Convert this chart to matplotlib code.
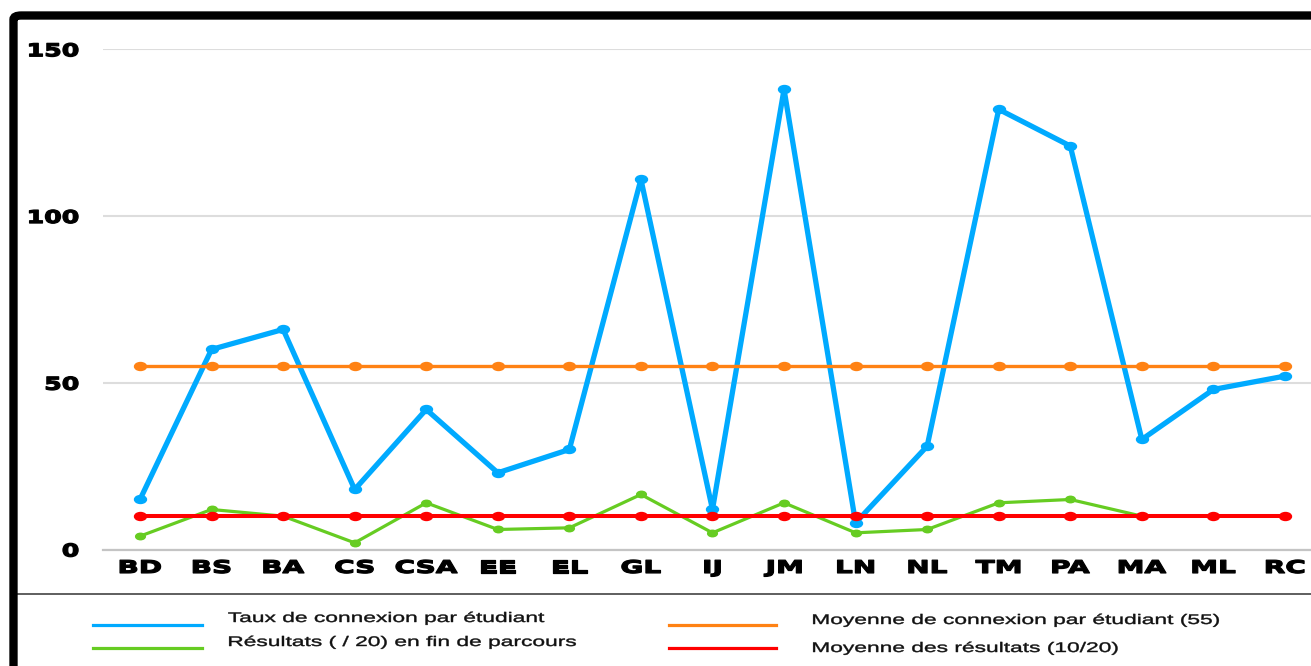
import numpy as np
import matplotlib
matplotlib.use("Agg")
import matplotlib.pyplot as plt
import matplotlib.patheffects as pe
from matplotlib.patches import FancyBboxPatch
from matplotlib.lines import Line2D
from matplotlib.path import Path
from matplotlib.transforms import Affine2D

# Données par parcours
parcours = ["BD", "BS", "BA", "CS", "CSA", "EE", "EL", "GL", "IJ",
            "JM", "LN", "NL", "TM", "PA", "MA", "ML", "RC"]
connexion = [15, 60, 66, 18, 42, 23, 30, 111, 12, 138, 8, 31, 132, 121, 33, 48, 52]
resultats = [4, 12, 10, 2, 14, 6, 6.5, 16.5, 5, 14, 5, 6, 14, 15, 10, np.nan, np.nan]
moy_connexion = [55] * len(parcours)
moy_resultats = [10] * len(parcours)
y_ticks = [0, 50, 100, 150]

legende = ["Taux de connexion par étudiant",
           "Résultats ( / 20) en fin de parcours",
           "Moyenne de connexion par étudiant (55)",
           "Moyenne des résultats (10/20)"]

BLEU = "#00aaff"
VERT = "#66cc22"
ORANGE = "#ff8214"
ROUGE = "#ff0000"

W, H = 1311, 666


class Etire(pe.AbstractPathEffect):
    """Élargit le texte horizontalement autour d'un point d'ancrage,
    avec un léger contour pour l'épaissir."""
    def __init__(self, sx, ancre=0.0, contour=0.0):
        super().__init__()
        self.sx = sx
        self.ancre = ancre
        self.contour = contour

    def draw_path(self, renderer, gc, tpath, affine, rgbFace=None):
        ext = tpath.get_extents()
        cx = ext.x0 + self.ancre * ext.width
        t = Affine2D().translate(-cx, 0).scale(self.sx, 1).translate(cx, 0)
        if self.contour > 0:
            gc0 = renderer.new_gc()
            gc0.copy_properties(gc)
            gc0.set_linewidth(self.contour)
            gc0.set_foreground(rgbFace)
            gc0.set_joinstyle("round")
            renderer.draw_path(gc0, tpath, t + affine, rgbFace)
            gc0.restore()
        else:
            renderer.draw_path(gc, tpath, t + affine, rgbFace)


def fx(x):
    return x / W


def fy(y):
    return 1 - y / H


# marqueur ovale
ovale = Path.unit_circle().transformed(Affine2D().scale(1.5, 1.0))

fig = plt.figure(figsize=(W / 100, H / 100), dpi=100)
ax = fig.add_axes([fx(103), fy(549.5), 1 - fx(103), (549.5 - 49.3) / H])

x = np.arange(len(parcours))
ax.plot(x, connexion, color=BLEU, lw=3.8, marker=ovale, ms=8.6, zorder=3,
        solid_capstyle="round", solid_joinstyle="round")
ax.plot(x, resultats, color=VERT, lw=2.3, marker=ovale, ms=7, zorder=4,
        solid_joinstyle="round")
ax.plot(x, moy_connexion, color=ORANGE, lw=2.4, marker=ovale, ms=8.6, zorder=5)
ax.plot(x, moy_resultats, color=ROUGE, lw=2.9, marker=ovale, ms=8.6, zorder=6)

ax.set_xlim(-(140 - 103) / 71.56, (W - 140) / 71.56)
ax.set_ylim(0, 150)
ax.set_xticks(x)
ax.set_xticklabels(parcours, fontfamily="DejaVu Sans", fontweight="bold", fontsize=12.6)
ax.set_yticks(y_ticks)
ax.set_yticklabels([str(v) for v in y_ticks], fontfamily="DejaVu Sans",
                   fontweight="bold", fontsize=12.8)
ax.tick_params(axis="x", length=0, pad=6.8)
ax.tick_params(axis="y", length=0, pad=17.3)
for lab in ax.get_xticklabels():
    lab.set_path_effects([Etire(1.6, 0.5, contour=0.9)])
for lab in ax.get_yticklabels():
    lab.set_path_effects([Etire(1.42, 1.0, contour=0.9)])

ax.grid(axis="y", color="#dddddd", lw=1.5)
ax.grid(axis="x", visible=False)
for s in ["top", "right", "left"]:
    ax.spines[s].set_visible(False)
ax.spines["bottom"].set_color("#c4c4c4")
ax.spines["bottom"].set_linewidth(1.6)
for m in ax.lines:
    m.set_clip_on(False)

# cadre noir
cadre = FancyBboxPatch((fx(13.5), fy(700)), 1.2, fy(15.5) - fy(700),
                       boxstyle="round,pad=0,rounding_size=0.006",
                       transform=fig.transFigure, fill=False,
                       ec="black", lw=6, zorder=10)
fig.add_artist(cadre)
fig.add_artist(Line2D([fx(16), 1], [fy(594), fy(594)], transform=fig.transFigure,
                      color="#333333", lw=1.1))

# légende
items = [
    (93, 202, 625, 228, 618, BLEU, legende[0]),
    (93, 202, 648, 228, 642, VERT, legende[1]),
    (669, 776, 625, 812, 620, ORANGE, legende[2]),
    (669, 776, 648, 812, 648, ROUGE, legende[3]),
]
for x0, x1, yl, xt, yt, c, txt in items:
    fig.add_artist(Line2D([fx(x0), fx(x1)], [fy(yl), fy(yl)],
                          transform=fig.transFigure, color=c, lw=2.3))
    t = fig.text(fx(xt), fy(yt), txt, fontfamily="Liberation Sans", fontsize=10,
                 ha="left", va="center", color="#111111")
    t.set_path_effects([Etire(1.64, 0.0, contour=0.3)])

fig.savefig("out.png", dpi=100)
